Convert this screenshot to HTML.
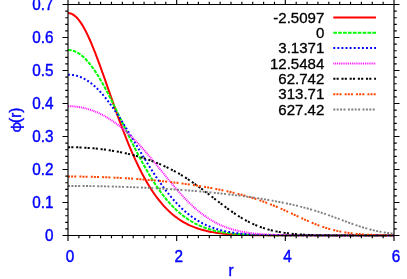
<!DOCTYPE html>
<html><head><meta charset="utf-8"><title>phi(r)</title>
<style>
html,body{margin:0;padding:0;background:#fff;overflow:hidden}
svg text{font-family:"Liberation Sans","DejaVu Sans",sans-serif;font-size:15.3px}
svg .t{fill:#0000ff;stroke:#0000ff;stroke-width:.4px}
svg .phi{font-family:"Noto Sans CJK JP","Liberation Sans",sans-serif;font-size:14.2px;letter-spacing:-1.1px}
svg .k{font-size:15.05px;fill:#000;stroke:#000;stroke-width:.3px}
</style></head><body>
<svg width="407" height="279" viewBox="0 0 407 279" style="display:block;will-change:transform">
<rect width="407" height="279" fill="#fff"/>
<clipPath id="c"><rect x="68" y="4.5" width="326" height="232.2"/></clipPath>
<path d="M68.00 13.02 L68.12 13.02 L69.34 13.13 L70.57 13.42 L71.79 13.89 L73.01 14.55 L74.23 15.37 L75.46 16.38 L76.68 17.56 L77.90 18.90 L79.12 20.41 L80.35 22.08 L81.57 23.90 L82.79 25.87 L84.01 27.99 L85.24 30.24 L86.46 32.63 L87.68 35.14 L88.90 37.76 L90.13 40.50 L91.35 43.33 L92.57 46.26 L93.79 49.28 L95.02 52.38 L96.24 55.55 L97.46 58.79 L98.68 62.08 L99.91 65.42 L101.13 68.81 L102.35 72.23 L103.57 75.68 L104.80 79.16 L106.02 82.65 L107.24 86.15 L108.46 89.66 L109.69 93.16 L110.91 96.66 L112.13 100.15 L113.35 103.63 L114.58 107.08 L115.80 110.51 L117.02 113.92 L118.24 117.29 L119.47 120.63 L120.69 123.93 L121.91 127.19 L123.13 130.41 L124.36 133.58 L125.58 136.71 L126.80 139.78 L128.02 142.81 L129.25 145.78 L130.47 148.69 L131.69 151.56 L132.91 154.36 L134.14 157.11 L135.36 159.80 L136.58 162.43 L137.80 165.00 L139.03 167.51 L140.25 169.97 L141.47 172.36 L142.69 174.69 L143.92 176.96 L145.14 179.18 L146.36 181.33 L147.58 183.42 L148.81 185.46 L150.03 187.44 L151.25 189.36 L152.47 191.22 L153.70 193.03 L154.92 194.78 L156.14 196.48 L157.36 198.12 L158.59 199.71 L159.81 201.24 L161.03 202.73 L162.25 204.17 L163.48 205.55 L164.70 206.89 L165.92 208.18 L167.14 209.42 L168.37 210.62 L169.59 211.77 L170.81 212.88 L172.03 213.95 L173.26 214.98 L174.48 215.97 L175.70 216.91 L176.92 217.82 L178.15 218.70 L179.37 219.53 L180.59 220.34 L181.81 221.10 L183.04 221.84 L184.26 222.54 L185.48 223.22 L186.70 223.86 L187.93 224.48 L189.15 225.06 L190.37 225.63 L191.59 226.16 L192.82 226.67 L194.04 227.16 L195.26 227.62 L196.48 228.06 L197.71 228.48 L198.93 228.88 L200.15 229.26 L201.37 229.62 L202.60 229.96 L203.82 230.28 L205.04 230.59 L206.26 230.88 L207.49 231.16 L208.71 231.42 L209.93 231.67 L211.15 231.90 L212.38 232.13 L213.60 232.34 L214.82 232.53 L216.04 232.72 L217.27 232.90 L218.49 233.06 L219.71 233.22 L220.93 233.37 L222.16 233.51 L223.38 233.64 L224.60 233.76 L225.82 233.88 L227.05 233.99 L228.27 234.09 L229.49 234.18 L230.71 234.27 L231.94 234.36 L233.16 234.44 L234.38 234.51 L235.60 234.58 L236.83 234.65 L238.05 234.71 L239.27 234.76 L240.49 234.82 L241.72 234.87 L242.94 234.91 L244.16 234.95 L245.38 235.00 L246.61 235.03 L247.83 235.07 L249.05 235.10 L250.27 235.13 L251.50 235.16 L252.72 235.18 L253.94 235.21 L255.16 235.23 L256.39 235.25 L257.61 235.27 L258.83 235.29 L260.05 235.31 L261.28 235.32 L262.50 235.34 L263.72 235.35 L264.94 235.36 L266.17 235.37 L267.39 235.38 L268.61 235.39 L269.83 235.40 L271.06 235.41 L272.28 235.42 L273.50 235.42 L274.72 235.43 L275.95 235.44 L277.17 235.44 L278.39 235.45 L279.61 235.45 L280.84 235.46 L282.06 235.46 L283.28 235.46 L284.50 235.47 L285.73 235.47 L286.95 235.47 L288.17 235.47 L289.39 235.48 L290.62 235.48 L291.84 235.48 L293.06 235.48 L294.28 235.48 L295.51 235.49 L296.73 235.49 L297.95 235.49 L299.17 235.49 L300.40 235.49 L301.62 235.49 L302.84 235.49 L304.06 235.49 L305.29 235.49 L306.51 235.49 L307.73 235.49 L308.95 235.50 L310.18 235.50 L311.40 235.50 L312.62 235.50 L313.84 235.50 L315.07 235.50 L316.29 235.50 L317.51 235.50 L318.73 235.50 L319.96 235.50 L321.18 235.50 L322.40 235.50 L323.62 235.50 L324.85 235.50 L326.07 235.50 L327.29 235.50 L328.51 235.50 L329.74 235.50 L330.96 235.50 L332.18 235.50 L333.40 235.50 L334.63 235.50 L335.85 235.50 L337.07 235.50 L338.29 235.50 L339.52 235.50 L340.74 235.50 L341.96 235.50 L343.18 235.50 L344.41 235.50 L345.63 235.50 L346.85 235.50 L348.07 235.50 L349.30 235.50 L350.52 235.50 L351.74 235.50 L352.96 235.50 L354.19 235.50 L355.41 235.50 L356.63 235.50 L357.85 235.50 L359.08 235.50 L360.30 235.50 L361.52 235.50 L362.74 235.50 L363.97 235.50 L365.19 235.50 L366.41 235.50 L367.63 235.50 L368.86 235.50 L370.08 235.50 L371.30 235.50 L372.52 235.50 L373.75 235.50 L374.97 235.50 L376.19 235.50 L377.41 235.50 L378.64 235.50 L379.86 235.50 L381.08 235.50 L382.30 235.50 L383.53 235.50 L384.75 235.50 L385.97 235.50 L387.19 235.50 L388.42 235.50 L389.64 235.50 L390.86 235.50 L392.08 235.50 L393.31 235.50 L394.00 235.50" fill="none" stroke="#ff0000" stroke-width="2" clip-path="url(#c)"/>
<path d="M333.3 17.4 H376" fill="none" stroke="#ff0000" stroke-width="2"/>
<text transform="translate(324.30 22.60) scale(1 1.02)" text-anchor="end" class="k">-2.5097</text>
<path d="M68.00 49.98 L68.12 49.98 L69.34 50.03 L70.57 50.17 L71.79 50.40 L73.01 50.72 L74.23 51.13 L75.46 51.63 L76.68 52.21 L77.90 52.89 L79.12 53.65 L80.35 54.50 L81.57 55.43 L82.79 56.45 L84.01 57.56 L85.24 58.75 L86.46 60.02 L87.68 61.37 L88.90 62.80 L90.13 64.30 L91.35 65.89 L92.57 67.54 L93.79 69.26 L95.02 71.06 L96.24 72.91 L97.46 74.83 L98.68 76.81 L99.91 78.85 L101.13 80.93 L102.35 83.07 L103.57 85.26 L104.80 87.49 L106.02 89.76 L107.24 92.07 L108.46 94.42 L109.69 96.79 L110.91 99.20 L112.13 101.64 L113.35 104.09 L114.58 106.57 L115.80 109.06 L117.02 111.57 L118.24 114.09 L119.47 116.62 L120.69 119.16 L121.91 121.70 L123.13 124.24 L124.36 126.78 L125.58 129.31 L126.80 131.84 L128.02 134.36 L129.25 136.87 L130.47 139.36 L131.69 141.84 L132.91 144.30 L134.14 146.75 L135.36 149.16 L136.58 151.56 L137.80 153.93 L139.03 156.28 L140.25 158.59 L141.47 160.88 L142.69 163.13 L143.92 165.35 L145.14 167.54 L146.36 169.70 L147.58 171.81 L148.81 173.89 L150.03 175.94 L151.25 177.94 L152.47 179.90 L153.70 181.83 L154.92 183.71 L156.14 185.56 L157.36 187.36 L158.59 189.12 L159.81 190.84 L161.03 192.52 L162.25 194.15 L163.48 195.74 L164.70 197.29 L165.92 198.80 L167.14 200.27 L168.37 201.70 L169.59 203.08 L170.81 204.42 L172.03 205.73 L173.26 206.99 L174.48 208.21 L175.70 209.40 L176.92 210.54 L178.15 211.65 L179.37 212.72 L180.59 213.75 L181.81 214.75 L183.04 215.71 L184.26 216.63 L185.48 217.52 L186.70 218.38 L187.93 219.21 L189.15 220.00 L190.37 220.76 L191.59 221.49 L192.82 222.20 L194.04 222.87 L195.26 223.52 L196.48 224.13 L197.71 224.72 L198.93 225.29 L200.15 225.83 L201.37 226.35 L202.60 226.84 L203.82 227.31 L205.04 227.76 L206.26 228.19 L207.49 228.60 L208.71 228.99 L209.93 229.36 L211.15 229.71 L212.38 230.05 L213.60 230.36 L214.82 230.67 L216.04 230.95 L217.27 231.22 L218.49 231.48 L219.71 231.73 L220.93 231.96 L222.16 232.17 L223.38 232.38 L224.60 232.58 L225.82 232.76 L227.05 232.93 L228.27 233.10 L229.49 233.25 L230.71 233.40 L231.94 233.54 L233.16 233.67 L234.38 233.79 L235.60 233.90 L236.83 234.01 L238.05 234.11 L239.27 234.21 L240.49 234.29 L241.72 234.38 L242.94 234.46 L244.16 234.53 L245.38 234.60 L246.61 234.66 L247.83 234.72 L249.05 234.78 L250.27 234.83 L251.50 234.88 L252.72 234.92 L253.94 234.97 L255.16 235.01 L256.39 235.04 L257.61 235.08 L258.83 235.11 L260.05 235.14 L261.28 235.17 L262.50 235.19 L263.72 235.22 L264.94 235.24 L266.17 235.26 L267.39 235.28 L268.61 235.30 L269.83 235.31 L271.06 235.33 L272.28 235.34 L273.50 235.35 L274.72 235.37 L275.95 235.38 L277.17 235.39 L278.39 235.40 L279.61 235.41 L280.84 235.41 L282.06 235.42 L283.28 235.43 L284.50 235.43 L285.73 235.44 L286.95 235.44 L288.17 235.45 L289.39 235.45 L290.62 235.46 L291.84 235.46 L293.06 235.46 L294.28 235.47 L295.51 235.47 L296.73 235.47 L297.95 235.48 L299.17 235.48 L300.40 235.48 L301.62 235.48 L302.84 235.48 L304.06 235.49 L305.29 235.49 L306.51 235.49 L307.73 235.49 L308.95 235.49 L310.18 235.49 L311.40 235.49 L312.62 235.49 L313.84 235.49 L315.07 235.49 L316.29 235.49 L317.51 235.50 L318.73 235.50 L319.96 235.50 L321.18 235.50 L322.40 235.50 L323.62 235.50 L324.85 235.50 L326.07 235.50 L327.29 235.50 L328.51 235.50 L329.74 235.50 L330.96 235.50 L332.18 235.50 L333.40 235.50 L334.63 235.50 L335.85 235.50 L337.07 235.50 L338.29 235.50 L339.52 235.50 L340.74 235.50 L341.96 235.50 L343.18 235.50 L344.41 235.50 L345.63 235.50 L346.85 235.50 L348.07 235.50 L349.30 235.50 L350.52 235.50 L351.74 235.50 L352.96 235.50 L354.19 235.50 L355.41 235.50 L356.63 235.50 L357.85 235.50 L359.08 235.50 L360.30 235.50 L361.52 235.50 L362.74 235.50 L363.97 235.50 L365.19 235.50 L366.41 235.50 L367.63 235.50 L368.86 235.50 L370.08 235.50 L371.30 235.50 L372.52 235.50 L373.75 235.50 L374.97 235.50 L376.19 235.50 L377.41 235.50 L378.64 235.50 L379.86 235.50 L381.08 235.50 L382.30 235.50 L383.53 235.50 L384.75 235.50 L385.97 235.50 L387.19 235.50 L388.42 235.50 L389.64 235.50 L390.86 235.50 L392.08 235.50 L393.31 235.50 L394.00 235.50" fill="none" stroke="#00ff00" stroke-width="2" stroke-dasharray="3.7 1.18" clip-path="url(#c)"/>
<path d="M333.3 32.75 H376" fill="none" stroke="#00ff00" stroke-width="2" stroke-dasharray="3.7 1.18"/>
<text transform="translate(324.30 37.95) scale(1 1.02)" text-anchor="end" class="k">0</text>
<path d="M68.00 74.70 L68.12 74.70 L69.34 74.72 L70.57 74.79 L71.79 74.90 L73.01 75.06 L74.23 75.27 L75.46 75.52 L76.68 75.82 L77.90 76.16 L79.12 76.56 L80.35 77.00 L81.57 77.50 L82.79 78.05 L84.01 78.66 L85.24 79.32 L86.46 80.03 L87.68 80.80 L88.90 81.62 L90.13 82.50 L91.35 83.43 L92.57 84.42 L93.79 85.46 L95.02 86.55 L96.24 87.70 L97.46 88.89 L98.68 90.13 L99.91 91.42 L101.13 92.76 L102.35 94.14 L103.57 95.57 L104.80 97.04 L106.02 98.55 L107.24 100.10 L108.46 101.69 L109.69 103.32 L110.91 104.98 L112.13 106.68 L113.35 108.41 L114.58 110.17 L115.80 111.96 L117.02 113.78 L118.24 115.63 L119.47 117.50 L120.69 119.39 L121.91 121.31 L123.13 123.25 L124.36 125.20 L125.58 127.17 L126.80 129.16 L128.02 131.16 L129.25 133.17 L130.47 135.19 L131.69 137.22 L132.91 139.26 L134.14 141.30 L135.36 143.34 L136.58 145.39 L137.80 147.43 L139.03 149.47 L140.25 151.51 L141.47 153.54 L142.69 155.56 L143.92 157.57 L145.14 159.57 L146.36 161.56 L147.58 163.54 L148.81 165.49 L150.03 167.44 L151.25 169.36 L152.47 171.26 L153.70 173.14 L154.92 175.00 L156.14 176.84 L157.36 178.65 L158.59 180.43 L159.81 182.19 L161.03 183.92 L162.25 185.62 L163.48 187.29 L164.70 188.93 L165.92 190.53 L167.14 192.11 L168.37 193.66 L169.59 195.17 L170.81 196.65 L172.03 198.09 L173.26 199.50 L174.48 200.88 L175.70 202.22 L176.92 203.53 L178.15 204.80 L179.37 206.04 L180.59 207.24 L181.81 208.41 L183.04 209.55 L184.26 210.65 L185.48 211.72 L186.70 212.75 L187.93 213.75 L189.15 214.72 L190.37 215.66 L191.59 216.56 L192.82 217.44 L194.04 218.28 L195.26 219.09 L196.48 219.87 L197.71 220.62 L198.93 221.35 L200.15 222.05 L201.37 222.71 L202.60 223.36 L203.82 223.97 L205.04 224.56 L206.26 225.13 L207.49 225.67 L208.71 226.19 L209.93 226.69 L211.15 227.16 L212.38 227.62 L213.60 228.05 L214.82 228.46 L216.04 228.85 L217.27 229.23 L218.49 229.59 L219.71 229.92 L220.93 230.25 L222.16 230.55 L223.38 230.85 L224.60 231.12 L225.82 231.38 L227.05 231.63 L228.27 231.87 L229.49 232.09 L230.71 232.30 L231.94 232.50 L233.16 232.69 L234.38 232.87 L235.60 233.04 L236.83 233.19 L238.05 233.34 L239.27 233.49 L240.49 233.62 L241.72 233.74 L242.94 233.86 L244.16 233.97 L245.38 234.07 L246.61 234.17 L247.83 234.26 L249.05 234.35 L250.27 234.43 L251.50 234.50 L252.72 234.58 L253.94 234.64 L255.16 234.70 L256.39 234.76 L257.61 234.81 L258.83 234.86 L260.05 234.91 L261.28 234.95 L262.50 235.00 L263.72 235.03 L264.94 235.07 L266.17 235.10 L267.39 235.13 L268.61 235.16 L269.83 235.19 L271.06 235.21 L272.28 235.23 L273.50 235.25 L274.72 235.27 L275.95 235.29 L277.17 235.31 L278.39 235.32 L279.61 235.34 L280.84 235.35 L282.06 235.36 L283.28 235.38 L284.50 235.39 L285.73 235.40 L286.95 235.40 L288.17 235.41 L289.39 235.42 L290.62 235.43 L291.84 235.43 L293.06 235.44 L294.28 235.44 L295.51 235.45 L296.73 235.45 L297.95 235.46 L299.17 235.46 L300.40 235.46 L301.62 235.47 L302.84 235.47 L304.06 235.47 L305.29 235.48 L306.51 235.48 L307.73 235.48 L308.95 235.48 L310.18 235.48 L311.40 235.49 L312.62 235.49 L313.84 235.49 L315.07 235.49 L316.29 235.49 L317.51 235.49 L318.73 235.49 L319.96 235.49 L321.18 235.49 L322.40 235.49 L323.62 235.49 L324.85 235.50 L326.07 235.50 L327.29 235.50 L328.51 235.50 L329.74 235.50 L330.96 235.50 L332.18 235.50 L333.40 235.50 L334.63 235.50 L335.85 235.50 L337.07 235.50 L338.29 235.50 L339.52 235.50 L340.74 235.50 L341.96 235.50 L343.18 235.50 L344.41 235.50 L345.63 235.50 L346.85 235.50 L348.07 235.50 L349.30 235.50 L350.52 235.50 L351.74 235.50 L352.96 235.50 L354.19 235.50 L355.41 235.50 L356.63 235.50 L357.85 235.50 L359.08 235.50 L360.30 235.50 L361.52 235.50 L362.74 235.50 L363.97 235.50 L365.19 235.50 L366.41 235.50 L367.63 235.50 L368.86 235.50 L370.08 235.50 L371.30 235.50 L372.52 235.50 L373.75 235.50 L374.97 235.50 L376.19 235.50 L377.41 235.50 L378.64 235.50 L379.86 235.50 L381.08 235.50 L382.30 235.50 L383.53 235.50 L384.75 235.50 L385.97 235.50 L387.19 235.50 L388.42 235.50 L389.64 235.50 L390.86 235.50 L392.08 235.50 L393.31 235.50 L394.00 235.50" fill="none" stroke="#0000ff" stroke-width="2" stroke-dasharray="1.9 2.19" clip-path="url(#c)"/>
<path d="M333.3 48.1 H376" fill="none" stroke="#0000ff" stroke-width="2" stroke-dasharray="1.9 2.19"/>
<text transform="translate(324.30 53.30) scale(1 1.02)" text-anchor="end" class="k">3.1371</text>
<path d="M68.00 106.17 L68.12 106.17 L69.34 106.19 L70.57 106.22 L71.79 106.28 L73.01 106.35 L74.23 106.45 L75.46 106.57 L76.68 106.72 L77.90 106.88 L79.12 107.06 L80.35 107.27 L81.57 107.50 L82.79 107.75 L84.01 108.03 L85.24 108.32 L86.46 108.64 L87.68 108.98 L88.90 109.34 L90.13 109.73 L91.35 110.14 L92.57 110.57 L93.79 111.02 L95.02 111.50 L96.24 112.00 L97.46 112.52 L98.68 113.07 L99.91 113.64 L101.13 114.23 L102.35 114.85 L103.57 115.49 L104.80 116.16 L106.02 116.85 L107.24 117.56 L108.46 118.30 L109.69 119.06 L110.91 119.85 L112.13 120.66 L113.35 121.49 L114.58 122.35 L115.80 123.24 L117.02 124.15 L118.24 125.08 L119.47 126.04 L120.69 127.02 L121.91 128.02 L123.13 129.05 L124.36 130.11 L125.58 131.18 L126.80 132.28 L128.02 133.41 L129.25 134.55 L130.47 135.72 L131.69 136.91 L132.91 138.13 L134.14 139.36 L135.36 140.62 L136.58 141.89 L137.80 143.19 L139.03 144.50 L140.25 145.83 L141.47 147.18 L142.69 148.55 L143.92 149.93 L145.14 151.33 L146.36 152.74 L147.58 154.17 L148.81 155.61 L150.03 157.06 L151.25 158.52 L152.47 159.99 L153.70 161.47 L154.92 162.96 L156.14 164.45 L157.36 165.95 L158.59 167.45 L159.81 168.96 L161.03 170.46 L162.25 171.97 L163.48 173.48 L164.70 174.98 L165.92 176.48 L167.14 177.97 L168.37 179.46 L169.59 180.94 L170.81 182.41 L172.03 183.87 L173.26 185.33 L174.48 186.76 L175.70 188.19 L176.92 189.60 L178.15 191.00 L179.37 192.37 L180.59 193.74 L181.81 195.08 L183.04 196.40 L184.26 197.70 L185.48 198.98 L186.70 200.24 L187.93 201.48 L189.15 202.69 L190.37 203.88 L191.59 205.05 L192.82 206.19 L194.04 207.30 L195.26 208.39 L196.48 209.46 L197.71 210.49 L198.93 211.50 L200.15 212.49 L201.37 213.45 L202.60 214.38 L203.82 215.28 L205.04 216.16 L206.26 217.01 L207.49 217.83 L208.71 218.63 L209.93 219.40 L211.15 220.14 L212.38 220.86 L213.60 221.56 L214.82 222.23 L216.04 222.87 L217.27 223.49 L218.49 224.09 L219.71 224.66 L220.93 225.22 L222.16 225.74 L223.38 226.25 L224.60 226.74 L225.82 227.20 L227.05 227.65 L228.27 228.08 L229.49 228.48 L230.71 228.87 L231.94 229.24 L233.16 229.60 L234.38 229.93 L235.60 230.25 L236.83 230.56 L238.05 230.85 L239.27 231.12 L240.49 231.39 L241.72 231.63 L242.94 231.87 L244.16 232.09 L245.38 232.30 L246.61 232.50 L247.83 232.69 L249.05 232.87 L250.27 233.04 L251.50 233.20 L252.72 233.35 L253.94 233.49 L255.16 233.62 L256.39 233.75 L257.61 233.87 L258.83 233.98 L260.05 234.08 L261.28 234.18 L262.50 234.27 L263.72 234.36 L264.94 234.44 L266.17 234.51 L267.39 234.58 L268.61 234.65 L269.83 234.71 L271.06 234.77 L272.28 234.82 L273.50 234.87 L274.72 234.92 L275.95 234.96 L277.17 235.00 L278.39 235.04 L279.61 235.08 L280.84 235.11 L282.06 235.14 L283.28 235.17 L284.50 235.19 L285.73 235.22 L286.95 235.24 L288.17 235.26 L289.39 235.28 L290.62 235.30 L291.84 235.32 L293.06 235.33 L294.28 235.34 L295.51 235.36 L296.73 235.37 L297.95 235.38 L299.17 235.39 L300.40 235.40 L301.62 235.41 L302.84 235.42 L304.06 235.42 L305.29 235.43 L306.51 235.44 L307.73 235.44 L308.95 235.45 L310.18 235.45 L311.40 235.46 L312.62 235.46 L313.84 235.46 L315.07 235.47 L316.29 235.47 L317.51 235.47 L318.73 235.48 L319.96 235.48 L321.18 235.48 L322.40 235.48 L323.62 235.48 L324.85 235.48 L326.07 235.49 L327.29 235.49 L328.51 235.49 L329.74 235.49 L330.96 235.49 L332.18 235.49 L333.40 235.49 L334.63 235.49 L335.85 235.49 L337.07 235.49 L338.29 235.50 L339.52 235.50 L340.74 235.50 L341.96 235.50 L343.18 235.50 L344.41 235.50 L345.63 235.50 L346.85 235.50 L348.07 235.50 L349.30 235.50 L350.52 235.50 L351.74 235.50 L352.96 235.50 L354.19 235.50 L355.41 235.50 L356.63 235.50 L357.85 235.50 L359.08 235.50 L360.30 235.50 L361.52 235.50 L362.74 235.50 L363.97 235.50 L365.19 235.50 L366.41 235.50 L367.63 235.50 L368.86 235.50 L370.08 235.50 L371.30 235.50 L372.52 235.50 L373.75 235.50 L374.97 235.50 L376.19 235.50 L377.41 235.50 L378.64 235.50 L379.86 235.50 L381.08 235.50 L382.30 235.50 L383.53 235.50 L384.75 235.50 L385.97 235.50 L387.19 235.50 L388.42 235.50 L389.64 235.50 L390.86 235.50 L392.08 235.50 L393.31 235.50 L394.00 235.50" fill="none" stroke="#ff00ff" stroke-width="2" stroke-dasharray="0.95 0.91" clip-path="url(#c)"/>
<path d="M333.3 63.45 H376" fill="none" stroke="#ff00ff" stroke-width="2" stroke-dasharray="0.95 0.91"/>
<text transform="translate(324.30 68.65) scale(1 1.02)" text-anchor="end" class="k">12.5484</text>
<path d="M68.00 147.19 L68.12 147.19 L69.34 147.20 L70.57 147.20 L71.79 147.22 L73.01 147.24 L74.23 147.26 L75.46 147.29 L76.68 147.33 L77.90 147.37 L79.12 147.41 L80.35 147.46 L81.57 147.52 L82.79 147.58 L84.01 147.64 L85.24 147.72 L86.46 147.79 L87.68 147.88 L88.90 147.96 L90.13 148.06 L91.35 148.15 L92.57 148.26 L93.79 148.37 L95.02 148.48 L96.24 148.60 L97.46 148.73 L98.68 148.86 L99.91 149.00 L101.13 149.14 L102.35 149.29 L103.57 149.45 L104.80 149.61 L106.02 149.78 L107.24 149.95 L108.46 150.13 L109.69 150.31 L110.91 150.50 L112.13 150.70 L113.35 150.90 L114.58 151.11 L115.80 151.33 L117.02 151.55 L118.24 151.78 L119.47 152.01 L120.69 152.25 L121.91 152.50 L123.13 152.76 L124.36 153.02 L125.58 153.29 L126.80 153.57 L128.02 153.85 L129.25 154.14 L130.47 154.44 L131.69 154.74 L132.91 155.06 L134.14 155.38 L135.36 155.71 L136.58 156.04 L137.80 156.39 L139.03 156.74 L140.25 157.10 L141.47 157.47 L142.69 157.85 L143.92 158.23 L145.14 158.63 L146.36 159.04 L147.58 159.45 L148.81 159.87 L150.03 160.31 L151.25 160.75 L152.47 161.20 L153.70 161.66 L154.92 162.14 L156.14 162.62 L157.36 163.11 L158.59 163.61 L159.81 164.13 L161.03 164.66 L162.25 165.19 L163.48 165.74 L164.70 166.30 L165.92 166.87 L167.14 167.45 L168.37 168.05 L169.59 168.65 L170.81 169.27 L172.03 169.90 L173.26 170.55 L174.48 171.20 L175.70 171.87 L176.92 172.55 L178.15 173.24 L179.37 173.95 L180.59 174.67 L181.81 175.40 L183.04 176.14 L184.26 176.89 L185.48 177.66 L186.70 178.44 L187.93 179.23 L189.15 180.04 L190.37 180.85 L191.59 181.68 L192.82 182.51 L194.04 183.36 L195.26 184.22 L196.48 185.09 L197.71 185.97 L198.93 186.85 L200.15 187.75 L201.37 188.65 L202.60 189.56 L203.82 190.48 L205.04 191.41 L206.26 192.33 L207.49 193.27 L208.71 194.21 L209.93 195.15 L211.15 196.09 L212.38 197.04 L213.60 197.99 L214.82 198.93 L216.04 199.88 L217.27 200.82 L218.49 201.76 L219.71 202.70 L220.93 203.63 L222.16 204.56 L223.38 205.48 L224.60 206.40 L225.82 207.30 L227.05 208.20 L228.27 209.09 L229.49 209.97 L230.71 210.83 L231.94 211.69 L233.16 212.53 L234.38 213.35 L235.60 214.17 L236.83 214.97 L238.05 215.75 L239.27 216.52 L240.49 217.27 L241.72 218.00 L242.94 218.72 L244.16 219.42 L245.38 220.10 L246.61 220.76 L247.83 221.41 L249.05 222.04 L250.27 222.65 L251.50 223.24 L252.72 223.81 L253.94 224.36 L255.16 224.90 L256.39 225.42 L257.61 225.91 L258.83 226.40 L260.05 226.86 L261.28 227.30 L262.50 227.73 L263.72 228.14 L264.94 228.54 L266.17 228.91 L267.39 229.28 L268.61 229.62 L269.83 229.95 L271.06 230.27 L272.28 230.57 L273.50 230.86 L274.72 231.13 L275.95 231.39 L277.17 231.64 L278.39 231.87 L279.61 232.10 L280.84 232.31 L282.06 232.51 L283.28 232.70 L284.50 232.88 L285.73 233.05 L286.95 233.21 L288.17 233.36 L289.39 233.50 L290.62 233.63 L291.84 233.76 L293.06 233.88 L294.28 233.99 L295.51 234.10 L296.73 234.20 L297.95 234.29 L299.17 234.37 L300.40 234.46 L301.62 234.53 L302.84 234.60 L304.06 234.67 L305.29 234.73 L306.51 234.79 L307.73 234.84 L308.95 234.89 L310.18 234.94 L311.40 234.98 L312.62 235.02 L313.84 235.06 L315.07 235.09 L316.29 235.13 L317.51 235.16 L318.73 235.18 L319.96 235.21 L321.18 235.23 L322.40 235.26 L323.62 235.28 L324.85 235.29 L326.07 235.31 L327.29 235.33 L328.51 235.34 L329.74 235.36 L330.96 235.37 L332.18 235.38 L333.40 235.39 L334.63 235.40 L335.85 235.41 L337.07 235.42 L338.29 235.42 L339.52 235.43 L340.74 235.44 L341.96 235.44 L343.18 235.45 L344.41 235.45 L345.63 235.46 L346.85 235.46 L348.07 235.47 L349.30 235.47 L350.52 235.47 L351.74 235.47 L352.96 235.48 L354.19 235.48 L355.41 235.48 L356.63 235.48 L357.85 235.48 L359.08 235.49 L360.30 235.49 L361.52 235.49 L362.74 235.49 L363.97 235.49 L365.19 235.49 L366.41 235.49 L367.63 235.49 L368.86 235.49 L370.08 235.49 L371.30 235.50 L372.52 235.50 L373.75 235.50 L374.97 235.50 L376.19 235.50 L377.41 235.50 L378.64 235.50 L379.86 235.50 L381.08 235.50 L382.30 235.50 L383.53 235.50 L384.75 235.50 L385.97 235.50 L387.19 235.50 L388.42 235.50 L389.64 235.50 L390.86 235.50 L392.08 235.50 L393.31 235.50 L394.00 235.50" fill="none" stroke="#000000" stroke-width="2" stroke-dasharray="2.1 1.2 2.1 2.77" clip-path="url(#c)"/>
<path d="M333.3 78.8 H376" fill="none" stroke="#000000" stroke-width="2" stroke-dasharray="2.1 1.2 2.1 2.77"/>
<text transform="translate(324.30 84.00) scale(1 1.02)" text-anchor="end" class="k">62.742</text>
<path d="M68.00 176.53 L68.12 176.53 L69.34 176.53 L70.57 176.53 L71.79 176.54 L73.01 176.54 L74.23 176.55 L75.46 176.56 L76.68 176.57 L77.90 176.58 L79.12 176.59 L80.35 176.61 L81.57 176.62 L82.79 176.64 L84.01 176.66 L85.24 176.68 L86.46 176.70 L87.68 176.72 L88.90 176.75 L90.13 176.78 L91.35 176.80 L92.57 176.83 L93.79 176.86 L95.02 176.90 L96.24 176.93 L97.46 176.97 L98.68 177.00 L99.91 177.04 L101.13 177.08 L102.35 177.12 L103.57 177.17 L104.80 177.21 L106.02 177.26 L107.24 177.31 L108.46 177.36 L109.69 177.41 L110.91 177.46 L112.13 177.52 L113.35 177.57 L114.58 177.63 L115.80 177.69 L117.02 177.75 L118.24 177.81 L119.47 177.88 L120.69 177.94 L121.91 178.01 L123.13 178.08 L124.36 178.15 L125.58 178.22 L126.80 178.29 L128.02 178.37 L129.25 178.45 L130.47 178.52 L131.69 178.61 L132.91 178.69 L134.14 178.77 L135.36 178.86 L136.58 178.94 L137.80 179.03 L139.03 179.12 L140.25 179.22 L141.47 179.31 L142.69 179.41 L143.92 179.50 L145.14 179.60 L146.36 179.70 L147.58 179.81 L148.81 179.91 L150.03 180.02 L151.25 180.13 L152.47 180.24 L153.70 180.35 L154.92 180.46 L156.14 180.58 L157.36 180.70 L158.59 180.82 L159.81 180.94 L161.03 181.06 L162.25 181.19 L163.48 181.31 L164.70 181.44 L165.92 181.57 L167.14 181.71 L168.37 181.84 L169.59 181.98 L170.81 182.12 L172.03 182.26 L173.26 182.40 L174.48 182.55 L175.70 182.70 L176.92 182.85 L178.15 183.00 L179.37 183.15 L180.59 183.31 L181.81 183.47 L183.04 183.63 L184.26 183.79 L185.48 183.96 L186.70 184.13 L187.93 184.30 L189.15 184.47 L190.37 184.65 L191.59 184.82 L192.82 185.00 L194.04 185.19 L195.26 185.37 L196.48 185.56 L197.71 185.75 L198.93 185.94 L200.15 186.14 L201.37 186.34 L202.60 186.54 L203.82 186.74 L205.04 186.95 L206.26 187.16 L207.49 187.37 L208.71 187.59 L209.93 187.81 L211.15 188.03 L212.38 188.26 L213.60 188.48 L214.82 188.72 L216.04 188.95 L217.27 189.19 L218.49 189.43 L219.71 189.68 L220.93 189.93 L222.16 190.18 L223.38 190.44 L224.60 190.70 L225.82 190.96 L227.05 191.23 L228.27 191.51 L229.49 191.78 L230.71 192.06 L231.94 192.35 L233.16 192.64 L234.38 192.94 L235.60 193.24 L236.83 193.54 L238.05 193.85 L239.27 194.17 L240.49 194.49 L241.72 194.81 L242.94 195.14 L244.16 195.48 L245.38 195.82 L246.61 196.17 L247.83 196.52 L249.05 196.88 L250.27 197.25 L251.50 197.62 L252.72 198.00 L253.94 198.38 L255.16 198.78 L256.39 199.17 L257.61 199.58 L258.83 199.99 L260.05 200.41 L261.28 200.84 L262.50 201.27 L263.72 201.71 L264.94 202.16 L266.17 202.61 L267.39 203.08 L268.61 203.54 L269.83 204.02 L271.06 204.50 L272.28 204.99 L273.50 205.49 L274.72 206.00 L275.95 206.51 L277.17 207.02 L278.39 207.55 L279.61 208.08 L280.84 208.61 L282.06 209.15 L283.28 209.70 L284.50 210.25 L285.73 210.80 L286.95 211.36 L288.17 211.93 L289.39 212.49 L290.62 213.06 L291.84 213.63 L293.06 214.20 L294.28 214.77 L295.51 215.34 L296.73 215.92 L297.95 216.49 L299.17 217.06 L300.40 217.62 L301.62 218.19 L302.84 218.75 L304.06 219.30 L305.29 219.85 L306.51 220.40 L307.73 220.94 L308.95 221.47 L310.18 222.00 L311.40 222.51 L312.62 223.02 L313.84 223.52 L315.07 224.01 L316.29 224.49 L317.51 224.96 L318.73 225.42 L319.96 225.87 L321.18 226.30 L322.40 226.73 L323.62 227.14 L324.85 227.54 L326.07 227.93 L327.29 228.31 L328.51 228.67 L329.74 229.02 L330.96 229.36 L332.18 229.69 L333.40 230.00 L334.63 230.30 L335.85 230.59 L337.07 230.87 L338.29 231.13 L339.52 231.39 L340.74 231.63 L341.96 231.86 L343.18 232.08 L344.41 232.29 L345.63 232.49 L346.85 232.68 L348.07 232.86 L349.30 233.03 L350.52 233.19 L351.74 233.35 L352.96 233.49 L354.19 233.63 L355.41 233.76 L356.63 233.88 L357.85 233.99 L359.08 234.10 L360.30 234.20 L361.52 234.29 L362.74 234.38 L363.97 234.46 L365.19 234.54 L366.41 234.61 L367.63 234.68 L368.86 234.74 L370.08 234.80 L371.30 234.86 L372.52 234.91 L373.75 234.95 L374.97 235.00 L376.19 235.04 L377.41 235.08 L378.64 235.11 L379.86 235.14 L381.08 235.17 L382.30 235.20 L383.53 235.23 L384.75 235.25 L385.97 235.27 L387.19 235.29 L388.42 235.31 L389.64 235.33 L390.86 235.34 L392.08 235.36 L393.31 235.37 L394.00 235.38" fill="none" stroke="#ff4500" stroke-width="2" stroke-dasharray="2 1.1 2 1.1 2 3.19" clip-path="url(#c)"/>
<path d="M333.3 94.15 H376" fill="none" stroke="#ff4500" stroke-width="2" stroke-dasharray="2 1.1 2 1.1 2 3.19"/>
<text transform="translate(324.30 99.35) scale(1 1.02)" text-anchor="end" class="k">313.71</text>
<path d="M68.00 185.94 L68.12 185.94 L69.34 185.94 L70.57 185.94 L71.79 185.94 L73.01 185.94 L74.23 185.95 L75.46 185.95 L76.68 185.96 L77.90 185.96 L79.12 185.97 L80.35 185.98 L81.57 185.99 L82.79 186.00 L84.01 186.01 L85.24 186.02 L86.46 186.04 L87.68 186.05 L88.90 186.07 L90.13 186.08 L91.35 186.10 L92.57 186.12 L93.79 186.13 L95.02 186.15 L96.24 186.17 L97.46 186.19 L98.68 186.22 L99.91 186.24 L101.13 186.26 L102.35 186.29 L103.57 186.31 L104.80 186.34 L106.02 186.37 L107.24 186.40 L108.46 186.43 L109.69 186.46 L110.91 186.49 L112.13 186.52 L113.35 186.55 L114.58 186.59 L115.80 186.62 L117.02 186.66 L118.24 186.69 L119.47 186.73 L120.69 186.77 L121.91 186.81 L123.13 186.85 L124.36 186.89 L125.58 186.93 L126.80 186.98 L128.02 187.02 L129.25 187.07 L130.47 187.11 L131.69 187.16 L132.91 187.21 L134.14 187.26 L135.36 187.31 L136.58 187.36 L137.80 187.41 L139.03 187.46 L140.25 187.52 L141.47 187.57 L142.69 187.63 L143.92 187.68 L145.14 187.74 L146.36 187.80 L147.58 187.86 L148.81 187.92 L150.03 187.98 L151.25 188.04 L152.47 188.11 L153.70 188.17 L154.92 188.24 L156.14 188.31 L157.36 188.37 L158.59 188.44 L159.81 188.51 L161.03 188.58 L162.25 188.66 L163.48 188.73 L164.70 188.80 L165.92 188.88 L167.14 188.96 L168.37 189.03 L169.59 189.11 L170.81 189.19 L172.03 189.27 L173.26 189.35 L174.48 189.44 L175.70 189.52 L176.92 189.61 L178.15 189.69 L179.37 189.78 L180.59 189.87 L181.81 189.96 L183.04 190.05 L184.26 190.14 L185.48 190.24 L186.70 190.33 L187.93 190.43 L189.15 190.52 L190.37 190.62 L191.59 190.72 L192.82 190.82 L194.04 190.92 L195.26 191.02 L196.48 191.13 L197.71 191.23 L198.93 191.34 L200.15 191.45 L201.37 191.56 L202.60 191.67 L203.82 191.78 L205.04 191.89 L206.26 192.01 L207.49 192.12 L208.71 192.24 L209.93 192.36 L211.15 192.48 L212.38 192.60 L213.60 192.72 L214.82 192.85 L216.04 192.97 L217.27 193.10 L218.49 193.23 L219.71 193.36 L220.93 193.49 L222.16 193.62 L223.38 193.76 L224.60 193.89 L225.82 194.03 L227.05 194.17 L228.27 194.31 L229.49 194.45 L230.71 194.60 L231.94 194.74 L233.16 194.89 L234.38 195.04 L235.60 195.19 L236.83 195.34 L238.05 195.50 L239.27 195.65 L240.49 195.81 L241.72 195.97 L242.94 196.13 L244.16 196.29 L245.38 196.46 L246.61 196.62 L247.83 196.79 L249.05 196.96 L250.27 197.14 L251.50 197.31 L252.72 197.49 L253.94 197.67 L255.16 197.85 L256.39 198.03 L257.61 198.22 L258.83 198.41 L260.05 198.60 L261.28 198.79 L262.50 198.99 L263.72 199.18 L264.94 199.38 L266.17 199.59 L267.39 199.79 L268.61 200.00 L269.83 200.21 L271.06 200.42 L272.28 200.64 L273.50 200.86 L274.72 201.08 L275.95 201.31 L277.17 201.54 L278.39 201.77 L279.61 202.00 L280.84 202.24 L282.06 202.48 L283.28 202.73 L284.50 202.98 L285.73 203.23 L286.95 203.49 L288.17 203.75 L289.39 204.02 L290.62 204.28 L291.84 204.56 L293.06 204.84 L294.28 205.12 L295.51 205.40 L296.73 205.70 L297.95 205.99 L299.17 206.29 L300.40 206.60 L301.62 206.91 L302.84 207.23 L304.06 207.55 L305.29 207.87 L306.51 208.21 L307.73 208.54 L308.95 208.89 L310.18 209.24 L311.40 209.59 L312.62 209.95 L313.84 210.32 L315.07 210.69 L316.29 211.07 L317.51 211.45 L318.73 211.84 L319.96 212.24 L321.18 212.64 L322.40 213.04 L323.62 213.45 L324.85 213.87 L326.07 214.29 L327.29 214.72 L328.51 215.15 L329.74 215.59 L330.96 216.03 L332.18 216.47 L333.40 216.91 L334.63 217.36 L335.85 217.82 L337.07 218.27 L338.29 218.73 L339.52 219.18 L340.74 219.64 L341.96 220.10 L343.18 220.56 L344.41 221.01 L345.63 221.47 L346.85 221.92 L348.07 222.37 L349.30 222.82 L350.52 223.27 L351.74 223.71 L352.96 224.14 L354.19 224.57 L355.41 224.99 L356.63 225.41 L357.85 225.82 L359.08 226.22 L360.30 226.62 L361.52 227.01 L362.74 227.38 L363.97 227.75 L365.19 228.11 L366.41 228.46 L367.63 228.80 L368.86 229.14 L370.08 229.46 L371.30 229.77 L372.52 230.07 L373.75 230.35 L374.97 230.63 L376.19 230.90 L377.41 231.16 L378.64 231.41 L379.86 231.64 L381.08 231.87 L382.30 232.09 L383.53 232.29 L384.75 232.49 L385.97 232.68 L387.19 232.86 L388.42 233.03 L389.64 233.19 L390.86 233.34 L392.08 233.49 L393.31 233.62 L394.00 233.70" fill="none" stroke="#808080" stroke-width="1.9" stroke-dasharray="2 1.4 2 1.4 2 1.4 2 2.4" clip-path="url(#c)"/>
<path d="M333.3 109.5 H376" fill="none" stroke="#808080" stroke-width="1.9" stroke-dasharray="2 1.4 2 1.4 2 1.4 2 2.4"/>
<text transform="translate(324.30 114.70) scale(1 1.02)" text-anchor="end" class="k">627.42</text>
<path d="M68 4.5 H394 V235.5 H68 Z M68.00 235.5 v5.5 M68.00 4.5 v-5.5 M78.87 235.5 v2.75 M78.87 4.5 v-2.75 M89.73 235.5 v2.75 M89.73 4.5 v-2.75 M100.60 235.5 v2.75 M100.60 4.5 v-2.75 M111.47 235.5 v2.75 M111.47 4.5 v-2.75 M122.33 235.5 v2.75 M122.33 4.5 v-2.75 M133.20 235.5 v2.75 M133.20 4.5 v-2.75 M144.07 235.5 v2.75 M144.07 4.5 v-2.75 M154.93 235.5 v2.75 M154.93 4.5 v-2.75 M165.80 235.5 v2.75 M165.80 4.5 v-2.75 M176.67 235.5 v5.5 M176.67 4.5 v-5.5 M187.53 235.5 v2.75 M187.53 4.5 v-2.75 M198.40 235.5 v2.75 M198.40 4.5 v-2.75 M209.27 235.5 v2.75 M209.27 4.5 v-2.75 M220.13 235.5 v2.75 M220.13 4.5 v-2.75 M231.00 235.5 v2.75 M231.00 4.5 v-2.75 M241.87 235.5 v2.75 M241.87 4.5 v-2.75 M252.73 235.5 v2.75 M252.73 4.5 v-2.75 M263.60 235.5 v2.75 M263.60 4.5 v-2.75 M274.47 235.5 v2.75 M274.47 4.5 v-2.75 M285.33 235.5 v5.5 M285.33 4.5 v-5.5 M296.20 235.5 v2.75 M296.20 4.5 v-2.75 M307.07 235.5 v2.75 M307.07 4.5 v-2.75 M317.93 235.5 v2.75 M317.93 4.5 v-2.75 M328.80 235.5 v2.75 M328.80 4.5 v-2.75 M339.67 235.5 v2.75 M339.67 4.5 v-2.75 M350.53 235.5 v2.75 M350.53 4.5 v-2.75 M361.40 235.5 v2.75 M361.40 4.5 v-2.75 M372.27 235.5 v2.75 M372.27 4.5 v-2.75 M383.13 235.5 v2.75 M383.13 4.5 v-2.75 M394.00 235.5 v5.5 M394.00 4.5 v-5.5 M68 235.50 h-5.5 M394 235.50 h5.5 M68 228.90 h-2.75 M394 228.90 h2.75 M68 222.30 h-2.75 M394 222.30 h2.75 M68 215.70 h-2.75 M394 215.70 h2.75 M68 209.10 h-2.75 M394 209.10 h2.75 M68 202.50 h-5.5 M394 202.50 h5.5 M68 195.90 h-2.75 M394 195.90 h2.75 M68 189.30 h-2.75 M394 189.30 h2.75 M68 182.70 h-2.75 M394 182.70 h2.75 M68 176.10 h-2.75 M394 176.10 h2.75 M68 169.50 h-5.5 M394 169.50 h5.5 M68 162.90 h-2.75 M394 162.90 h2.75 M68 156.30 h-2.75 M394 156.30 h2.75 M68 149.70 h-2.75 M394 149.70 h2.75 M68 143.10 h-2.75 M394 143.10 h2.75 M68 136.50 h-5.5 M394 136.50 h5.5 M68 129.90 h-2.75 M394 129.90 h2.75 M68 123.30 h-2.75 M394 123.30 h2.75 M68 116.70 h-2.75 M394 116.70 h2.75 M68 110.10 h-2.75 M394 110.10 h2.75 M68 103.50 h-5.5 M394 103.50 h5.5 M68 96.90 h-2.75 M394 96.90 h2.75 M68 90.30 h-2.75 M394 90.30 h2.75 M68 83.70 h-2.75 M394 83.70 h2.75 M68 77.10 h-2.75 M394 77.10 h2.75 M68 70.50 h-5.5 M394 70.50 h5.5 M68 63.90 h-2.75 M394 63.90 h2.75 M68 57.30 h-2.75 M394 57.30 h2.75 M68 50.70 h-2.75 M394 50.70 h2.75 M68 44.10 h-2.75 M394 44.10 h2.75 M68 37.50 h-5.5 M394 37.50 h5.5 M68 30.90 h-2.75 M394 30.90 h2.75 M68 24.30 h-2.75 M394 24.30 h2.75 M68 17.70 h-2.75 M394 17.70 h2.75 M68 11.10 h-2.75 M394 11.10 h2.75 M68 4.50 h-5.5 M394 4.50 h5.5" fill="none" stroke="#000" stroke-width="1.15"/>
<text transform="translate(53.60 240.80) scale(1 1.02)" text-anchor="end" class="t">0</text>
<text transform="translate(53.60 207.80) scale(1 1.02)" text-anchor="end" class="t">0.1</text>
<text transform="translate(53.60 174.80) scale(1 1.02)" text-anchor="end" class="t">0.2</text>
<text transform="translate(53.60 141.80) scale(1 1.02)" text-anchor="end" class="t">0.3</text>
<text transform="translate(53.60 108.80) scale(1 1.02)" text-anchor="end" class="t">0.4</text>
<text transform="translate(53.60 75.80) scale(1 1.02)" text-anchor="end" class="t">0.5</text>
<text transform="translate(53.60 42.80) scale(1 1.02)" text-anchor="end" class="t">0.6</text>
<text transform="translate(53.60 9.80) scale(1 1.02)" text-anchor="end" class="t">0.7</text>
<text transform="translate(70.10 261.60) scale(1 1.02)" text-anchor="middle" class="t">0</text>
<text transform="translate(178.77 261.60) scale(1 1.02)" text-anchor="middle" class="t">2</text>
<text transform="translate(287.43 261.60) scale(1 1.02)" text-anchor="middle" class="t">4</text>
<text transform="translate(396.10 261.60) scale(1 1.02)" text-anchor="middle" class="t">6</text>
<text transform="translate(231.10 276.40) scale(1 1.02)" text-anchor="middle" class="t">r</text>
<text transform="translate(20.5 132.6) rotate(-90) scale(1 1.02)" class="t"><tspan class="phi">φ</tspan>(r)</text>
</svg>
</body></html>
